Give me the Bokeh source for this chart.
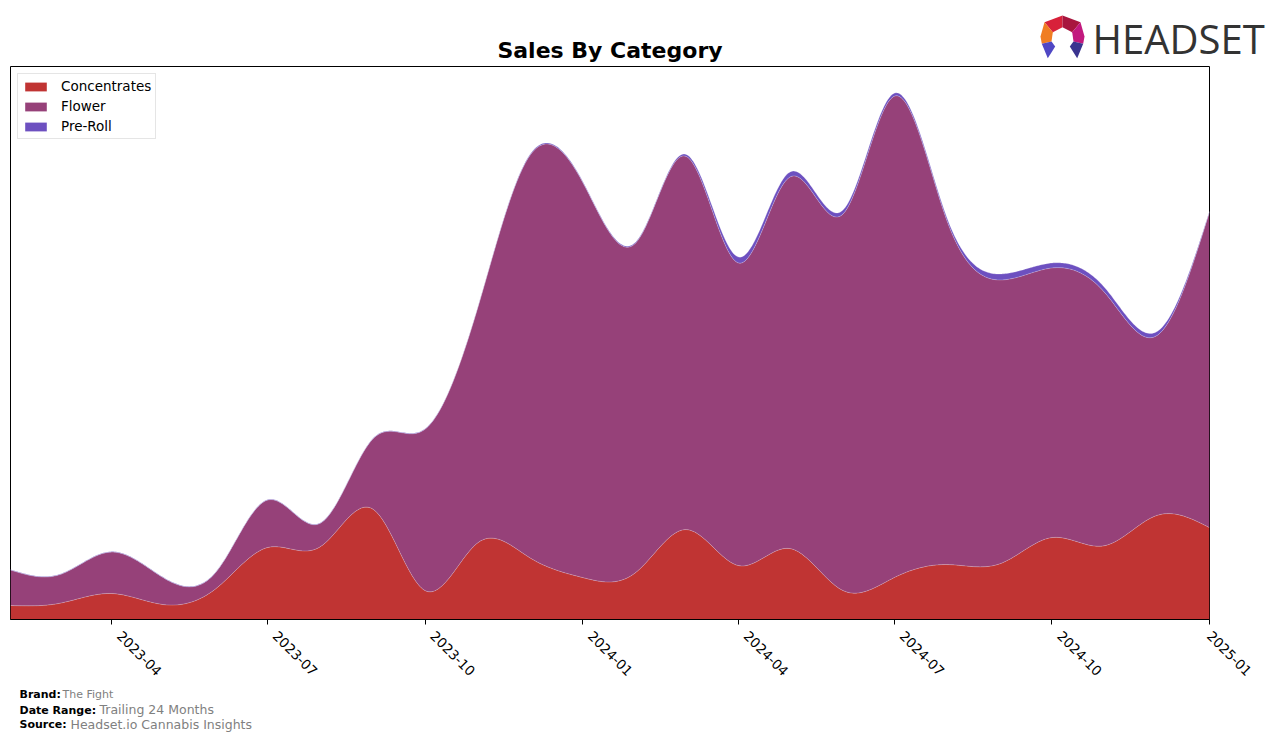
import numpy as np
import pandas as pd
from bokeh.plotting import figure
from bokeh.layouts import column
from bokeh.models import (Range1d, FixedTicker, DatetimeTickFormatter, DatetimeAxis, Legend,
                          CustomLabelingPolicy)
from bokeh.core.properties import value
from bokeh.embed import file_html
from bokeh.resources import INLINE

# ---------------- data (monthly, arbitrary sales units) ----------------
months = ["2023-02", "2023-03", "2023-04", "2023-05", "2023-06", "2023-07",
          "2023-08", "2023-09", "2023-10", "2023-11", "2023-12", "2024-01",
          "2024-02", "2024-03", "2024-04", "2024-05", "2024-06", "2024-07",
          "2024-08", "2024-09", "2024-10", "2024-11", "2024-12", "2025-01"]
concentrates = [14, 16, 26, 15, 31, 72, 73, 110, 29, 77, 62, 42,
                47, 90, 54, 71, 29, 42, 55, 56, 82, 74, 104, 92]
flower = [35.5, 28.5, 41.5, 27, 16.5, 47.5, 23.5, 71.5, 161.5, 236.5, 402, 396,
          330, 374, 303, 372, 377, 482, 343, 284, 270, 253, 180, 316]
pre_roll = [0.5, 0.5, 0.5, 0.5, 0.5, 0.5, 0.5, 0.5, 0.5, 0.5, 1, 1,
            1, 2, 6, 5, 4, 3, 3, 6, 5, 5, 4, 1]
series_names = ["Concentrates", "Flower", "Pre-Roll"]
series_colors = ["#C03433", "#964179", "#6D50C0"]
tick_months = ["2023-04", "2023-07", "2023-10", "2024-01", "2024-04",
               "2024-07", "2024-10", "2025-01"]

title_text = "Sales By Category"
footer_keys = ["Brand:", "Date Range:", "Source:"]
footer_vals = ["The Fight", "Trailing 24 Months", "Headset.io Cannabis Insights"]


def natural_spline(x, y, xs):
    x = np.asarray(x, float)
    y = np.asarray(y, float)
    n = len(x)
    h = np.diff(x)
    A = np.zeros((n, n))
    b = np.zeros(n)
    A[0, 0] = 1
    A[-1, -1] = 1
    for i in range(1, n - 1):
        A[i, i - 1] = h[i - 1]
        A[i, i] = 2 * (h[i - 1] + h[i])
        A[i, i + 1] = h[i]
        b[i] = 3 * ((y[i + 1] - y[i]) / h[i] - (y[i] - y[i - 1]) / h[i - 1])
    c = np.linalg.solve(A, b)
    bb = (y[1:] - y[:-1]) / h - h * (2 * c[:-1] + c[1:]) / 3
    d = (c[1:] - c[:-1]) / (3 * h)
    idx = np.clip(np.searchsorted(x, xs, side="right") - 1, 0, n - 2)
    t = xs - x[idx]
    return y[idx] + bb[idx] * t + c[idx] * t ** 2 + d[idx] * t ** 3


dates = pd.to_datetime(months)
xd = (dates - dates[0]).days.values.astype(float)
xs = np.linspace(xd[0], xd[-1], 900)
x_dt = dates[0] + pd.to_timedelta(xs, unit="D")

layers = [np.clip(natural_spline(xd, v, xs), 0, None) for v in (concentrates, flower, pre_roll)]
cum = np.cumsum(np.vstack(layers), axis=0)
ymax = cum[-1].max() * 1.05

W = 1276
HEAD_H = 65
FOOT_H = 58
FL, FR, FT, FB = 10, 1209, 66, 619
MAIN_H = 741 - HEAD_H - FOOT_H          # canvas rows 65..683
MAIN_TOP = HEAD_H


def blank_fig(h, y0, y1):
    f = figure(width=W, height=h, output_backend="svg", toolbar_location=None,
               x_axis_location=None, y_axis_location=None,
               min_border=0, min_border_left=0, min_border_right=0,
               min_border_top=0, min_border_bottom=0,
               x_range=Range1d(0, W), y_range=Range1d(y1, y0))
    f.frame_align = False
    f.xgrid.visible = False
    f.ygrid.visible = False
    f.outline_line_color = None
    f.background_fill_color = "white"
    f.border_fill_color = "white"
    return f


def text_at(f, x, baseline_y, txt, size, bold=False, color="black", align="left",
            font="DejaVu Sans"):
    f.text(x=[x], y=[baseline_y - 0.33 * size], text=[txt], text_font=value(font),
           text_font_size=value(f"{size}px"), text_font_style="bold" if bold else "normal",
           text_color=color, text_align=align, text_baseline="middle")


# ---------------- header ----------------
head = blank_fig(HEAD_H, 0, HEAD_H)
text_at(head, (FL + FR) / 2, 57, title_text, 22, bold=True, align="center")
text_at(head, 1092, 51, "HEADSET", 40, color="#333333", font="Open Sans")
logo_polys = [
    ([(1044, 21.7), (1062, 15), (1062, 26.7), (1052.3, 31.7)], "#D8213A"),
    ([(1062, 15), (1080, 21.7), (1071.7, 31.7), (1062, 26.7)], "#A8163E"),
    ([(1044, 21.7), (1052.3, 31.7), (1051, 41), (1041.3, 43.3), (1040, 36)], "#F07D22"),
    ([(1080, 21.7), (1071.7, 31.7), (1073, 41), (1082.7, 43.3), (1084, 36)], "#C2197E"),
    ([(1041.3, 43.3), (1051, 41), (1054.7, 46), (1047.3, 57.7)], "#4F47C4"),
    ([(1082.7, 43.3), (1073, 41), (1069.3, 46), (1076.7, 57.7)], "#3A348F"),
]
head.patches(xs=[[a for a, b in pts] for pts, c in logo_polys],
             ys=[[b for a, b in pts] for pts, c in logo_polys],
             fill_color=[c for pts, c in logo_polys], line_color=None)

# ---------------- main chart ----------------
p = figure(width=W, height=MAIN_H, output_backend="svg", toolbar_location=None,
           x_axis_type="datetime", y_axis_location=None,
           min_border_left=FL, min_border_right=W - FR,
           min_border_top=FT - MAIN_TOP, min_border_bottom=(MAIN_TOP + MAIN_H) - FB)
p.frame_align = False
p.x_range = Range1d(x_dt[0], x_dt[-1])
p.y_range = Range1d(0, ymax)
p.xgrid.visible = False
p.ygrid.visible = False
p.outline_line_color = "black"
p.outline_line_alpha = 1
p.outline_line_width = 1
p.background_fill_color = "white"
p.border_fill_color = "white"

items = []
base = np.zeros_like(xs)
for i, name in enumerate(series_names):
    r = p.varea(x=x_dt, y1=base, y2=cum[i], fill_color=series_colors[i], fill_alpha=1)
    items.append((name, [r]))
    base = cum[i]
# faint light edges between the stacked bands, as in the original
for i in range(3):
    p.line(x=x_dt, y=cum[i], line_color="white", line_alpha=0.3, line_width=0.8)

legend = Legend(items=items, location="top_left")
legend.margin = 7
legend.padding = 4
legend.spacing = 4
legend.glyph_width = 27
legend.glyph_height = 11
legend.label_height = 15
legend.label_standoff = 12
legend.label_text_font = "DejaVu Sans"
legend.label_text_font_size = "13.5px"
legend.label_text_color = "black"
legend.border_line_color = "#cccccc"
legend.border_line_width = 1
legend.background_fill_alpha = 0.85
p.add_layout(legend)

tick_vals = [pd.Timestamp(m).value / 1e6 for m in tick_months]
fmt = DatetimeTickFormatter(days="%Y-%m", months="%Y-%m", years="%Y-%m",
                            hours="%Y-%m", minutes="%Y-%m")

# axis 1: tick marks on the true month positions, its own labels suppressed
ax = p.xaxis[0]
ax.ticker = FixedTicker(ticks=tick_vals)
ax.formatter = fmt
ax.major_label_text_font_size = "1px"
ax.major_label_standoff = 0
ax.major_label_policy = CustomLabelingPolicy(
    code="const all = Array.from(indices); for (const i of all) { indices.unset(i) } return indices")
ax.axis_line_color = "black"
ax.major_tick_line_color = "black"
ax.major_tick_out = 5
ax.major_tick_in = 0
ax.minor_tick_line_color = None

# axis 2: the rotated labels, set a little right of each tick as in the original
# (the last one cannot pass the right edge of the range, so it stays on its tick)
shift_ms = 4.6 * 86400000
lab_ticks = [t + shift_ms for t in tick_vals[:-1]] + [tick_vals[-1]]
lab_ax = DatetimeAxis(ticker=FixedTicker(ticks=lab_ticks), formatter=fmt)
lab_ax.major_label_orientation = -np.pi / 4
lab_ax.major_label_text_font = "DejaVu Sans"
lab_ax.major_label_text_font_size = "13.5px"
lab_ax.major_label_text_color = "black"
lab_ax.major_label_standoff = 5
lab_ax.axis_line_color = None
lab_ax.major_tick_line_color = None
lab_ax.major_tick_out = 0
lab_ax.major_tick_in = 0
lab_ax.minor_tick_line_color = None
p.add_layout(lab_ax, "below")

# ---------------- footer ----------------
foot_top = MAIN_TOP + MAIN_H
foot = blank_fig(FOOT_H, foot_top, foot_top + FOOT_H)
key_y = [698, 713.5, 728]
val_x = [62, 99, 70]
val_size = [11, 12.5, 12.5]
for i in range(3):
    text_at(foot, 19, key_y[i], footer_keys[i], 11, bold=True)
    text_at(foot, val_x[i], key_y[i], footer_vals[i], val_size[i], color="#808080")

layout = column(head, p, foot, spacing=0)
open("out.html", "w").write(file_html(layout, INLINE))
